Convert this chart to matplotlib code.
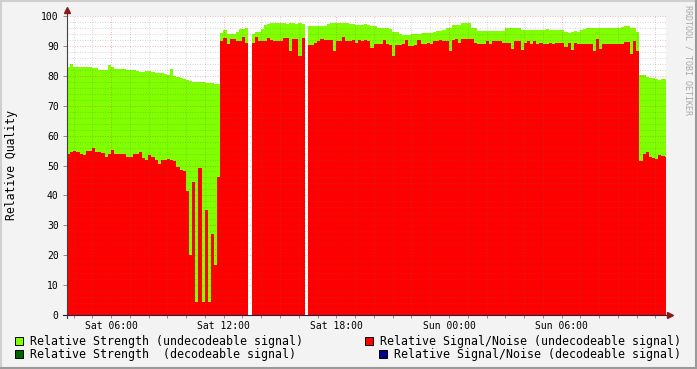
import numpy as np
import matplotlib
matplotlib.use("Agg")
import matplotlib.pyplot as plt
from matplotlib.lines import Line2D
from matplotlib.patches import Rectangle

nan = np.nan

# ── data (10 minute samples, hours since Sat 00:00) ──────────────────────────
start_hour = 3.65
step_hour = 1 / 6

strength = [
    83, 84, 83, 83, 83, 83,
    83, 83, 82.5, 82.5, 82, 82,
    82, 83.5, 83, 82.3, 82.3, 82.3,
    82.3, 82, 82, 81.9, 81.5, 81.3,
    81.2, 81.5, 81.5, 81.3, 81, 81,
    81, 80.5, 80.3, 82.2, 80, 79.6,
    79.3, 79, 78.5, 78.3, 78, 78,
    77.8, 77.8, 77.6, 77.5, 77.5, 77.3,
    77.2, 94.3, 95.2, 94, 93.9, 94,
    94.5, 95.5, 95.5, 96, nan, 93.9,
    94.5, 94.8, 95.7, 97, 97.2, 97.5,
    97.5, 97.7, 97.5, 97.5, 97.3, 97.5,
    97.5, 97.2, 97.5, 97.2, nan, 96.7,
    96.7, 96.7, 96.7, 96.7, 96.7, 97.3,
    97.5, 97.5, 97.5, 97.5, 97.5, 97.5,
    97.3, 97.3, 97, 97, 97, 97.3,
    97, 96.7, 96.5, 96, 96, 96,
    96, 95.5, 94.7, 94.7, 94, 93.8,
    93.8, 93.8, 94, 94, 94, 94.2,
    94.2, 94.2, 94.3, 94.5, 95, 95,
    95.2, 96, 96.1, 97, 97, 97,
    97.8, 97.8, 97.5, 96.1, 96, 95,
    95, 95, 95, 95, 95, 95,
    95, 95, 95.9, 95.9, 95.9, 95.9,
    95.9, 95.2, 95.2, 95.2, 95.2, 95.3,
    95.3, 95.3, 95.3, 95.5, 95.3, 95.3,
    95.3, 95.3, 95.3, 94.5, 94.2, 94.5,
    95, 94.8, 95.2, 95.7, 95.9, 95.9,
    96, 96.1, 96.1, 96.1, 96.1, 96.1,
    96.1, 96.1, 96.1, 96.3, 96.7, 96.5,
    96.1, 96.1, 94.8, 80.4, 80.2, 79.5,
    79.4, 79.3, 78.8, 78.5, 79, 79,
]

snr = [
    54, 54.5, 55, 54.4, 54, 53.5,
    55, 55, 56, 54.6, 54.6, 54.3,
    52.8, 54, 55.3, 54, 54, 53.9,
    54, 53, 52.8, 54, 54, 54.5,
    52.5, 52, 53.5, 53, 51.7, 50.5,
    51.7, 51.7, 52.1, 51.7, 51.5, 49.5,
    48.5, 48, 41.5, 20, 44.5, 4.5,
    49, 4.5, 35, 4.5, 27, 16.7,
    46, 91.7, 92.8, 90.6, 92.2, 92.2,
    91.5, 91.5, 93, 91, nan, 91.1,
    93, 91.6, 91.6, 91.6, 92.6, 92,
    91.8, 91.8, 91.8, 92.8, 92.8, 88.3,
    92.4, 92.4, 86.5, 92.7, nan, 90.3,
    90.3, 91, 91.8, 92.4, 92, 92,
    92, 88.3, 91.7, 91.7, 93, 91.7,
    91.5, 92, 91, 92, 91.5, 92,
    91.5, 89.4, 90.8, 90.8, 90.6, 92,
    90.6, 90.3, 86.7, 90.3, 90.2, 90.5,
    92, 90, 90, 90.3, 92, 90.5,
    90.5, 91, 90.5, 91.8, 91.5, 92,
    91.7, 91.5, 88.3, 92, 92.4, 91,
    92.4, 92.4, 92.4, 92.4, 91, 90.5,
    90.5, 90.5, 91.7, 90.5, 91.8, 91.8,
    91.8, 91, 91, 91, 89.1, 91.7,
    91.7, 88.5, 91, 91.5, 90.5, 91.5,
    90.5, 91, 90.5, 90.5, 91, 90.6,
    91, 91, 91, 89.5, 91, 88.5,
    91, 90.7, 90.7, 90.7, 90.7, 90.7,
    88.3, 92.2, 88.9, 90.7, 90.7, 90.7,
    90.7, 90.7, 90.7, 90.7, 91.4, 91.4,
    87.2, 91.7, 88.3, 51.4, 54, 54.4,
    53, 52.5, 52.1, 53.5, 53.3, 53,
]

tick_hours = [6, 12, 18, 24, 30]
tick_labels = ["Sat 06:00", "Sat 12:00", "Sat 18:00", "Sun 00:00", "Sun 06:00"]

legend_labels = [
    "Relative Strength (undecodeable signal)",
    "Relative Signal/Noise (undecodeable signal)",
    "Relative Strength  (decodeable signal)",
    "Relative Signal/Noise (decodeable signal)",
]
legend_colors = ["#80ff00", "#ff0000", "#006400", "#000090"]

# ── figure ───────────────────────────────────────────────────────────────────
W, H = 697, 369
mono = "DejaVu Sans Mono"
plt.rcParams["font.family"] = mono

fig = plt.figure(figsize=(W / 100, H / 100), dpi=100, facecolor="#f3f3f3")
ax = fig.add_axes([67 / W, 54 / H, 599 / W, 299 / H])
ax.set_facecolor("white")

n = len(strength)
left = start_hour + np.arange(n) * step_hour
ax.bar(left, strength, width=step_hour, align="edge", color="#80ff00",
       lw=0, antialiased=False, zorder=1)
ax.bar(left, snr, width=step_hour, align="edge", color="#ff0000",
       lw=0, antialiased=False, zorder=2)

ax.set_xlim(start_hour, start_hour + 599 / 18.77)
ax.set_ylim(0, 100)

ax.set_xticks(tick_hours, labels=tick_labels)
ax.set_xticks(np.arange(4, 36), minor=True)
ax.set_yticks(np.arange(0, 101, 10))
ax.set_yticks(np.arange(0, 101, 2), minor=True)

ax.set_axisbelow(False)
ax.grid(which="minor", color=(0.4, 0.4, 0.4), alpha=0.25,
        linestyle=(0, (1, 1.5)), lw=0.72, zorder=3)
ax.grid(which="major", color=(0.85, 0.1, 0.1), alpha=0.3,
        linestyle=(0, (1, 1.5)), lw=0.72, zorder=3)

ax.tick_params(which="both", direction="out", colors="#a08080",
               labelcolor="black", labelsize=7, width=0.7)
ax.tick_params(axis="y", which="major", length=3, pad=3)
ax.tick_params(axis="y", which="minor", length=0)
ax.tick_params(axis="x", which="major", length=2, pad=2.5)
ax.tick_params(axis="x", which="minor", length=2)

for side in ["top", "right", "left", "bottom"]:
    ax.spines[side].set_visible(False)

# axes with arrows (rrdtool style)
axis_col = "#404040"
arrow_col = "#8b1a1a"
ax.add_line(Line2D([0, 0], [-0.01, 1.02], transform=ax.transAxes,
                   color=axis_col, lw=0.8, clip_on=False, zorder=5))
ax.add_line(Line2D([-0.007, 1.006], [0, 0], transform=ax.transAxes,
                   color="#202040", lw=0.8, clip_on=False, zorder=5))
ax.plot(0, 1.02, marker="^", markersize=4, color=arrow_col,
        transform=ax.transAxes, clip_on=False, zorder=6)
ax.plot(1.006, 0, marker=">", markersize=4, color=arrow_col,
        transform=ax.transAxes, clip_on=False, zorder=6)

fig.text(12 / W, 1 - 165 / H, "Relative Quality", rotation=90,
         ha="center", va="center", fontsize=8.3)
fig.text(688 / W, 1 - 5 / H, "RRDTOOL / TOBI OETIKER", rotation=270,
         ha="center", va="top", fontsize=6, color="#a8a8a8")

# legend
box_pos = [(15, 337), (365, 337), (15, 350), (379, 350)]
text_pos = [(30, 341), (380, 341), (30, 354.5), (394, 354.5)]
for label, col, (bx, by), (tx, ty) in zip(legend_labels, legend_colors,
                                          box_pos, text_pos):
    fig.patches.append(Rectangle((bx / W, 1 - (by + 8) / H), 8 / W, 8 / H,
                                 transform=fig.transFigure, facecolor=col,
                                 edgecolor="black", lw=0.7))
    fig.text(tx / W, 1 - ty / H, label, ha="left", va="center", fontsize=8.4)

# outer frame
fig.add_artist(Line2D([0, 1], [1 - 1 / H, 1 - 1 / H], color="#cfcfcf", lw=1.5))
fig.add_artist(Line2D([1 / W, 1 / W], [0, 1], color="#cfcfcf", lw=1.5))
fig.add_artist(Line2D([0, 1], [1 / H, 1 / H], color="#9a9a9a", lw=1.5))
fig.add_artist(Line2D([1 - 1 / W, 1 - 1 / W], [0, 1], color="#9a9a9a", lw=1.5))

fig.savefig("out.png", dpi=100, facecolor=fig.get_facecolor())
